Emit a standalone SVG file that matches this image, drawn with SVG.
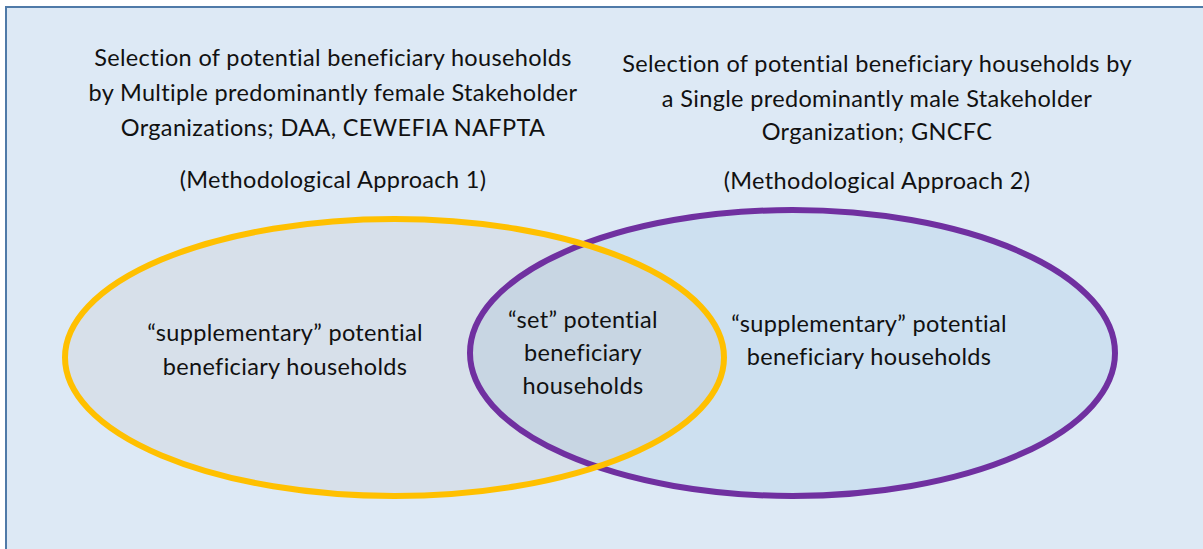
<svg xmlns="http://www.w3.org/2000/svg" width="1203" height="549" viewBox="0 0 1203 549">
<style>
  text { font-family: Lato, "Open Sans", "Liberation Sans", sans-serif; font-size: 23.5px; letter-spacing: 0.35px; fill: #111; text-anchor: middle; }
</style>
<defs>
  <clipPath id="clipRight"><ellipse cx="792.5" cy="353" rx="322.5" ry="143"/></clipPath>
</defs>
<rect id="frame" x="6" y="7" width="1210" height="560" fill="#dde9f5" stroke="#4f7aa8" stroke-width="2"/>
<g id="set1">
  <ellipse cx="394.5" cy="357.5" rx="329.5" ry="138.5" fill="#d7e0ea"/>
</g>
<g id="set2">
  <ellipse cx="792.5" cy="353" rx="322.5" ry="143" fill="#cde0f0"/>
</g>
<g id="intersection">
  <ellipse cx="394.5" cy="357.5" rx="329.5" ry="138.5" fill="#c8d6e3" clip-path="url(#clipRight)"/>
</g>
<g id="outlines">
  <ellipse cx="792.5" cy="353" rx="322.5" ry="143" fill="none" stroke="#7030a0" stroke-width="6"/>
  <ellipse cx="394.5" cy="357.5" rx="329.5" ry="138.5" fill="none" stroke="#ffc000" stroke-width="6"/>
</g>
<g id="title1">
  <text x="333" y="66">Selection of potential beneficiary households</text>
  <text x="333" y="101">by Multiple predominantly female Stakeholder</text>
  <text x="333" y="136">Organizations; DAA, CEWEFIA NAFPTA</text>
  <text x="333" y="188">(Methodological Approach 1)</text>
</g>
<g id="title2">
  <text x="877" y="72">Selection of potential beneficiary households by</text>
  <text x="877" y="107">a Single predominantly male Stakeholder</text>
  <text x="877" y="140">Organization; GNCFC</text>
  <text x="877" y="189">(Methodological Approach 2)</text>
</g>
<g id="label-left">
  <text x="285" y="341">“supplementary” potential</text>
  <text x="285" y="375">beneficiary households</text>
</g>
<g id="label-set">
  <text x="583" y="328">“set” potential</text>
  <text x="583" y="361">beneficiary</text>
  <text x="583" y="394">households</text>
</g>
<g id="label-right">
  <text x="869" y="332">“supplementary” potential</text>
  <text x="869" y="365">beneficiary households</text>
</g>
<g id="connectors"/>
</svg>
